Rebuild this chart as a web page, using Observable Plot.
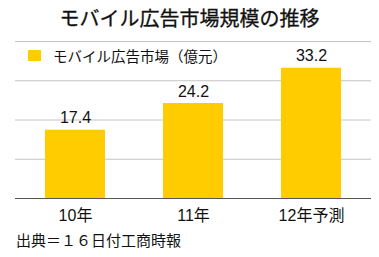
<!DOCTYPE html>
<html>
<head>
<meta charset="utf-8">
<script src="https://cdn.jsdelivr.net/npm/d3@7"></script>
<script src="https://cdn.jsdelivr.net/npm/@observablehq/plot@0.6"></script>
<style>
  body { margin: 0; background: #fff; font-family: "Liberation Sans", "Noto Sans CJK JP", sans-serif; }
  #wrap { position: relative; width: 379px; height: 257px; overflow: hidden; }
  #title { height: 36px; line-height: 36px; text-align: center; font-size: 20px; font-weight: 400; color: #111; font-family: "Noto Sans CJK JP", sans-serif; -webkit-text-stroke: 0.3px #111; }
  #legend { position: absolute; left: 28px; top: 45px; display: flex; align-items: center; font-size: 14.5px; color: #111; font-family: "Noto Sans CJK JP", sans-serif; }
  #legend .sw { width: 13px; height: 11px; background: #FFCC00; margin-right: 12px; }
  #caption { position: absolute; left: 16px; top: 231px; font-size: 15px; line-height: 18px; color: #111; font-family: "Noto Sans CJK JP", sans-serif; }
</style>
</head>
<body>
<div id="wrap">
  <div id="title">モバイル広告市場規模の推移</div>
  <div id="chart"></div>
  <div id="legend"><div class="sw"></div><span>モバイル広告市場（億元）</span></div>
  <div id="caption">出典＝１６日付工商時報</div>
</div>
<script>
const categories = ["10年", "11年", "12年予測"];
const values = [17.4, 24.2, 33.2];
const gridTicks = [10, 20, 30, 40];

const data = categories.map((c, i) => ({category: c, value: values[i]}));

const chart = Plot.plot({
  width: 379,
  height: 196,
  marginTop: 5,
  marginBottom: 34,
  marginLeft: 15,
  marginRight: 8,
  style: {fontFamily: '"Liberation Sans", "Noto Sans CJK JP", sans-serif', fontSize: "16px", color: "#111"},
  x: {domain: categories, paddingInner: 0.49, paddingOuter: 0.25, label: null},
  y: {domain: [0, 40], axis: null},
  marks: [
    Plot.ruleY(gridTicks, {stroke: "#c4c4c4", strokeWidth: 1}),
    Plot.barY(data, {x: "category", y: "value", fill: "#FFCC00"}),
    Plot.ruleY([0], {stroke: "#555", strokeWidth: 1}),
    Plot.text(data, {x: "category", y: "value", text: d => d.value.toFixed(1), dy: -12, fontSize: 16, fill: "#111"}),
    Plot.axisX({tickSize: 0, tickPadding: 11, fontSize: 16, fontFamily: '"Liberation Sans", "Noto Sans CJK JP", sans-serif', label: null})
  ]
});
document.getElementById("chart").appendChild(chart);
</script>
</body>
</html>
